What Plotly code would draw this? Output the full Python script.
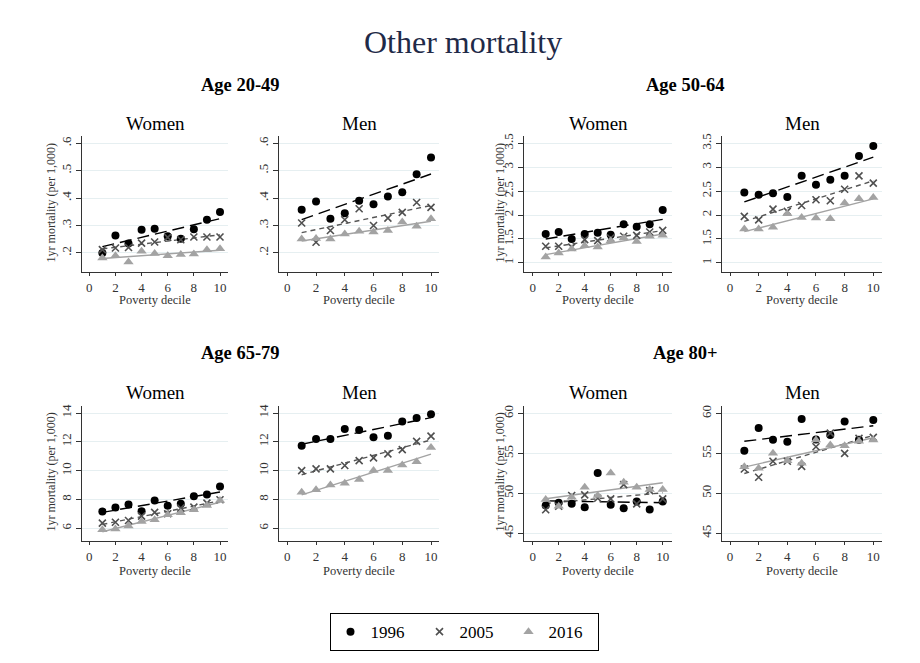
import numpy as np
import plotly.graph_objects as go

deciles = [1, 2, 3, 4, 5, 6, 7, 8, 9, 10]
x_ticks = [0, 2, 4, 6, 8, 10]

# Age 20-49
a2049_women_1996 = [0.200, 0.264, 0.234, 0.285, 0.288, 0.261, 0.252, 0.286, 0.321, 0.349]
a2049_women_2005 = [0.212, 0.218, 0.220, 0.236, 0.240, 0.257, 0.248, 0.258, 0.258, 0.258]
a2049_women_2016 = [0.182, 0.190, 0.167, 0.206, 0.198, 0.190, 0.194, 0.196, 0.212, 0.215]
a2049_men_1996 = [0.358, 0.388, 0.325, 0.345, 0.390, 0.378, 0.406, 0.421, 0.487, 0.548]
a2049_men_2005 = [0.309, 0.239, 0.282, 0.321, 0.361, 0.300, 0.327, 0.348, 0.384, 0.366]
a2049_men_2016 = [0.251, 0.253, 0.251, 0.269, 0.279, 0.276, 0.282, 0.313, 0.297, 0.325]
# Age 50-64
a5064_women_1996 = [1.604, 1.646, 1.500, 1.604, 1.632, 1.590, 1.810, 1.757, 1.810, 2.104]
a5064_women_2005 = [1.347, 1.347, 1.330, 1.486, 1.465, 1.520, 1.556, 1.576, 1.646, 1.680]
a5064_women_2016 = [1.125, 1.208, 1.292, 1.361, 1.333, 1.465, 1.520, 1.450, 1.556, 1.576]
a5064_men_1996 = [2.472, 2.424, 2.458, 2.375, 2.819, 2.632, 2.736, 2.819, 3.236, 3.444]
a5064_men_2005 = [1.972, 1.900, 2.125, 2.076, 2.200, 2.320, 2.300, 2.540, 2.820, 2.667]
a5064_men_2016 = [1.708, 1.708, 1.743, 2.028, 1.951, 1.938, 1.924, 2.250, 2.340, 2.368]
# Age 65-79
a6579_women_1996 = [7.16, 7.43, 7.64, 7.18, 7.92, 7.55, 7.69, 8.22, 8.34, 8.89]
a6579_women_2005 = [6.35, 6.41, 6.53, 6.83, 7.09, 7.00, 7.39, 7.46, 7.74, 7.97]
a6579_women_2016 = [5.88, 5.93, 6.14, 6.46, 6.58, 6.93, 7.06, 7.27, 7.57, 7.92]
a6579_men_1996 = [11.73, 12.20, 12.20, 12.89, 12.82, 12.31, 12.43, 13.42, 13.65, 13.91]
a6579_men_2005 = [10.00, 10.12, 10.12, 10.35, 10.69, 10.88, 11.16, 11.46, 12.03, 12.40]
a6579_men_2016 = [8.50, 8.66, 9.00, 9.12, 9.38, 10.00, 10.00, 10.39, 10.62, 11.60]
# Age 80+
a80_women_1996 = [48.46, 48.79, 48.67, 48.25, 52.54, 48.54, 48.12, 48.96, 47.96, 48.96]
a80_women_2005 = [47.92, 48.37, 49.71, 49.79, 49.37, 49.29, 51.08, 48.67, 50.33, 49.29]
a80_women_2016 = [49.21, 48.37, 49.50, 50.75, 49.71, 52.54, 51.38, 50.75, 50.46, 50.46]
a80_men_1996 = [55.33, 58.17, 56.71, 56.46, 59.29, 56.75, 57.29, 59.00, 56.71, 59.17]
a80_men_2005 = [53.04, 52.00, 54.00, 54.00, 53.37, 55.83, 57.54, 55.00, 56.87, 57.00]
a80_men_2016 = [53.33, 53.12, 55.00, 54.08, 53.75, 56.67, 56.04, 55.96, 56.50, 56.67]

ytick_2049 = [0.2, 0.3, 0.4, 0.5, 0.6]
ytext_2049 = [".2", ".3", ".4", ".5", ".6"]
ytick_5064 = [1, 1.5, 2, 2.5, 3, 3.5]
ytext_5064 = ["1", "1.5", "2", "2.5", "3", "3.5"]
ytick_6579 = [6, 8, 10, 12, 14]
ytext_6579 = ["6", "8", "10", "12", "14"]
ytick_80 = [45, 50, 55, 60]
ytext_80 = ["45", "50", "55", "60"]

years = ["1996", "2005", "2016"]

W, H = 920, 663
FONT = "Liberation Serif"

# panel geometry in pixels: left, right, top, bottom, x0px, x10px, (va, pa, vb, pb)
panels = [
    dict(d=[a2049_women_1996, a2049_women_2005, a2049_women_2016], g=(81.7, 228, 134, 271, 89.3, 220, 0.2, 251.7, 0.6, 141.7), yt=(ytick_2049, ytext_2049)),
    dict(d=[a2049_men_1996, a2049_men_2005, a2049_men_2016], g=(279.3, 439, 134, 271, 287.3, 431, 0.2, 251.7, 0.6, 141.7), yt=(ytick_2049, ytext_2049)),
    dict(d=[a5064_women_1996, a5064_women_2005, a5064_women_2016], g=(524.3, 671.7, 134, 271, 532.7, 662.7, 1, 261.7, 3.5, 141.7), yt=(ytick_5064, ytext_5064)),
    dict(d=[a5064_men_1996, a5064_men_2005, a5064_men_2016], g=(722.3, 881.7, 134, 271, 730, 873.3, 1, 261.7, 3.5, 141.7), yt=(ytick_5064, ytext_5064)),
    dict(d=[a6579_women_1996, a6579_women_2005, a6579_women_2016], g=(81.7, 228, 405, 541, 89.3, 220, 6, 527.7, 14, 412.3), yt=(ytick_6579, ytext_6579)),
    dict(d=[a6579_men_1996, a6579_men_2005, a6579_men_2016], g=(279.3, 439, 405, 541, 287.3, 431, 6, 527.7, 14, 412.3), yt=(ytick_6579, ytext_6579)),
    dict(d=[a80_women_1996, a80_women_2005, a80_women_2016], g=(524.3, 671.7, 405, 541, 532.7, 662.7, 45, 532.7, 60, 412.7), yt=(ytick_80, ytext_80)),
    dict(d=[a80_men_1996, a80_men_2005, a80_men_2016], g=(722.3, 881.7, 405, 541, 730, 873.3, 45, 532.7, 60, 412.7), yt=(ytick_80, ytext_80)),
]

mstyles = [
    dict(symbol="circle", size=8, color="black"),
    dict(symbol="x-thin", size=7, color="#505050", line=dict(width=1.6, color="#505050")),
    dict(symbol="triangle-up", size=9, color="#a3a3a3"),
]
lstyles = [
    dict(color="black", width=1.4, dash="12px,6px"),
    dict(color="#555555", width=1.4, dash="5px,4px"),
    dict(color="#a3a3a3", width=1.4, dash="solid"),
]

fig = go.Figure()
layout = {}
for i, p in enumerate(panels):
    k = i + 1
    xa = "x" if k == 1 else f"x{k}"
    ya = "y" if k == 1 else f"y{k}"
    left, right, top, bottom, x0, x10, va, pa, vb, pb = p["g"]
    ux = (x10 - x0) / 10.0
    xr = [(left - x0) / ux, (right - x0) / ux]
    uy = (pa - pb) / (vb - va)
    yr = [va - (bottom - pa) / uy, vb + (pb - top) / uy]
    # fit lines first
    for j, vals in enumerate(p["d"]):
        slope, icpt = np.polyfit(deciles, vals, 1)
        xs = np.array([deciles[0], deciles[-1]], dtype=float)
        fig.add_trace(go.Scatter(x=xs, y=slope * xs + icpt, mode="lines", line=lstyles[j],
                                 xaxis=xa, yaxis=ya, showlegend=False, hoverinfo="skip"))
    for j, vals in enumerate(p["d"]):
        fig.add_trace(go.Scatter(x=deciles, y=vals, mode="markers", marker=mstyles[j],
                                 name=years[j], xaxis=xa, yaxis=ya, showlegend=(k == 1)))
    axcommon = dict(showline=True, linecolor="#333333", linewidth=1, ticks="outside",
                    tickcolor="#333333", tickfont=dict(family=FONT, size=13, color="#333333"),
                    zeroline=False, fixedrange=True)
    layout["xaxis" if k == 1 else f"xaxis{k}"] = dict(
        domain=[left / W, right / W], range=xr, anchor=ya, tickvals=x_ticks, ticklen=3,
        showgrid=False, **axcommon)
    layout["yaxis" if k == 1 else f"yaxis{k}"] = dict(
        domain=[1 - bottom / H, 1 - top / H], range=yr, anchor=xa, ticklen=5,
        tickvals=p["yt"][0], ticktext=p["yt"][1], tickangle=-90,
        showgrid=True, gridcolor="#e6eff1", gridwidth=1, **axcommon)

ann = []
def add_text(txt, x, y, size, bold=False, angle=0, color="black"):
    ann.append(dict(text=(f"<b>{txt}</b>" if bold else txt), x=x / W, y=1 - y / H,
                    xref="paper", yref="paper", showarrow=False, textangle=angle,
                    xanchor="center", yanchor="middle",
                    font=dict(family=FONT, size=size, color=color)))

add_text("Other mortality", 463, 40, 32, color="#1f2a48")
for txt, x, y in [("Age 20-49", 240, 83), ("Age 50-64", 685, 83), ("Age 65-79", 240, 352), ("Age 80+", 685, 352)]:
    add_text(txt, x, y, 18.5, bold=True)
for yy, ty in [(122, 299), (392, 570.5)]:
    for txt, x in [("Women", 155), ("Men", 359), ("Women", 598), ("Men", 802)]:
        add_text(txt, x, yy, 19)
        add_text("Poverty decile", x, ty, 12.5, color="#333333")
for x, y in [(51, 202), (500, 202), (51, 472), (500, 472)]:
    add_text("1yr mortality (per 1,000)", x, y, 12, angle=-90, color="#333333")

layout.update(dict(
    width=W, height=H, margin=dict(l=0, r=0, t=0, b=0),
    paper_bgcolor="white", plot_bgcolor="white",
    annotations=ann,
    legend=dict(orientation="h", x=464 / W, xanchor="center", y=1 - 632 / H, yanchor="middle",
                bordercolor="black", borderwidth=1, entrywidth=44, entrywidthmode="pixels",
                font=dict(family=FONT, size=17, color="black"), bgcolor="white"),
    font=dict(family=FONT),
))
fig.update_layout(**layout)
fig.write_html("out.html")
